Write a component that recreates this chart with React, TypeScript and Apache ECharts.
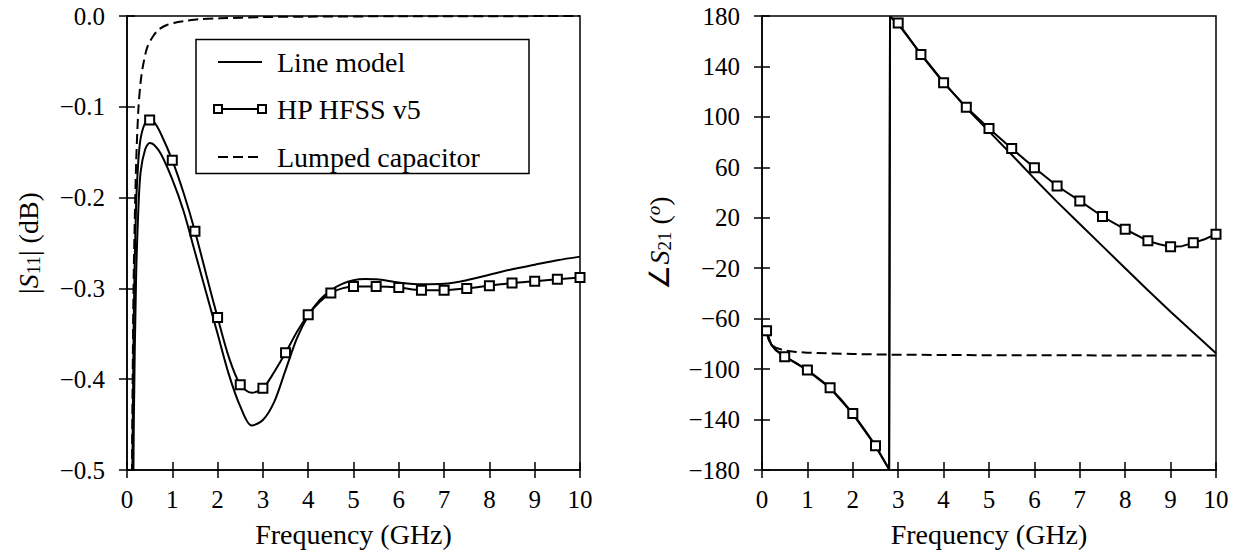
import React, { useEffect, useRef } from 'react';
import * as echarts from 'echarts';

const FONT = "'Liberation Serif', 'Liberation Sans', sans-serif";

// ---------- data (frequency GHz, value) ----------
const lineModelS11: [number, number][] = [
  [0.1, -0.8], [0.15, -0.45], [0.2, -0.29], [0.25, -0.214], [0.3, -0.172], [0.4, -0.147],
  [0.5, -0.14], [0.6, -0.142], [0.75, -0.152], [1, -0.18], [1.25, -0.215], [1.5, -0.26],
  [1.75, -0.305], [2, -0.35], [2.25, -0.395], [2.5, -0.43], [2.75, -0.451], [3, -0.445],
  [3.25, -0.425], [3.5, -0.39], [3.75, -0.355], [4, -0.33], [4.25, -0.313], [4.5, -0.302],
  [4.75, -0.295], [5, -0.291], [5.25, -0.2897], [5.5, -0.29], [6, -0.2935], [6.5, -0.2955],
  [7, -0.295], [7.5, -0.291], [8, -0.285], [8.5, -0.279], [9, -0.274], [9.5, -0.269], [10, -0.265],
];
const hfssS11: [number, number][] = [
  [0.1, -0.62], [0.15, -0.33], [0.2, -0.21], [0.25, -0.16], [0.3, -0.135], [0.4, -0.118],
  [0.5, -0.1145], [0.6, -0.117], [0.75, -0.13], [1, -0.159], [1.25, -0.195], [1.5, -0.237],
  [1.75, -0.285], [2, -0.332], [2.25, -0.376], [2.5, -0.406], [2.75, -0.415], [3, -0.41],
  [3.25, -0.392], [3.5, -0.371], [3.75, -0.348], [4, -0.329], [4.25, -0.315], [4.5, -0.305],
  [4.75, -0.3], [5, -0.298], [5.5, -0.298], [6, -0.299], [6.5, -0.302], [7, -0.302],
  [7.5, -0.3], [8, -0.297], [8.5, -0.294], [9, -0.292], [9.5, -0.29], [10, -0.288],
];
const capacitorS11: [number, number][] = [
  [0.1, -0.62], [0.11, -0.5], [0.13, -0.37], [0.15, -0.28], [0.2, -0.165], [0.25, -0.104],
  [0.3, -0.073], [0.36, -0.053], [0.45, -0.034], [0.58, -0.022], [0.7, -0.015], [0.88, -0.0099],
  [1.1, -0.0068], [1.32, -0.0052], [1.6, -0.0036], [2.05, -0.0026], [3, -0.0012], [4, -0.0007],
  [6, -0.0003], [10, -0.0001],
];
const lineModelS21: [number, number][] = [
  [0.1, -69], [0.15, -76], [0.2, -80], [0.3, -84.5], [0.4, -87.5], [0.5, -90], [0.75, -95],
  [1, -101], [1.5, -115], [2, -135.5], [2.5, -161], [2.8, -179.6], [2.82, 179.4], [3, 173.5],
  [3.5, 150], [4, 127.5], [4.5, 107], [5, 88.5], [5.5, 70], [6, 51], [6.5, 32.6], [7, 15],
  [7.5, -2.5], [8, -20], [8.5, -37.5], [9, -54.5], [9.5, -71], [10, -87.5],
];
const hfssS21: [number, number][] = [
  [0.1, -69.6], [0.2, -80.5], [0.3, -85], [0.5, -90.2], [0.75, -95.5], [1, -100.7],
  [1.25, -107.5], [1.5, -114.7], [1.75, -124.5], [2, -135.1], [2.25, -147.5], [2.5, -160.7],
  [2.8, -179.5], [2.82, 179.5], [3, 174.5], [3.5, 149.4], [4, 127], [4.5, 107.7], [5, 90.8],
  [5.5, 75], [6, 59.7], [6.5, 45.2], [7, 33.4], [7.5, 21], [8, 10.9], [8.5, 1.7], [8.75, -1],
  [9, -3], [9.25, -2.5], [9.5, 0.1], [9.75, 3], [10, 7],
];
const capacitorS21: [number, number][] = [
  [0.1, -71], [0.15, -77], [0.2, -80.5], [0.3, -83], [0.5, -85.3], [0.75, -86.4], [1, -87],
  [1.5, -87.5], [2, -88], [3, -88.6], [5, -89], [7, -89.1], [10, -89.2],
];
const hfssMarkerFreqs = [0.1, 0.5, 1, 1.5, 2, 2.5, 3, 3.5, 4, 4.5, 5, 5.5, 6, 6.5, 7, 7.5, 8, 8.5, 9, 9.5, 10];
const legendLabels = ['Line model', 'HP HFSS v5', 'Lumped capacitor'];
const xAxisTitle = 'Frequency (GHz)';

const BLACK = '#000';

function markerData(d: [number, number][]) {
  return d.map(([f, v]) =>
    hfssMarkerFreqs.includes(f) ? { value: [f, v] } : { value: [f, v], symbol: 'none' }
  );
}

function mainX(gridIndex: number) {
  return {
    type: 'value', gridIndex, min: 0, max: 10, interval: 1, position: 'bottom',
    axisLine: { show: true, onZero: false, lineStyle: { color: BLACK, width: 1.5 } },
    axisTick: { show: true, length: 8, lineStyle: { color: BLACK, width: 1.5 } },
    axisLabel: { fontSize: 25, fontFamily: FONT, color: BLACK, margin: 17 },
    splitLine: { show: false },
    name: xAxisTitle, nameLocation: 'middle', nameGap: 50,
    nameTextStyle: { fontSize: 28, fontFamily: FONT, color: BLACK },
  };
}
function innerX(gridIndex: number) {
  return {
    type: 'value', gridIndex, min: 0, max: 10, interval: 1, position: 'bottom',
    axisLine: { show: false, onZero: false },
    axisTick: { show: true, inside: true, length: 8, lineStyle: { color: BLACK, width: 1.5 } },
    axisLabel: { show: false }, splitLine: { show: false },
  };
}
const richBase = {
  t: { fontSize: 28, fontFamily: FONT, color: BLACK, lineHeight: 30 },
  s: { fontSize: 28, fontFamily: FONT, color: BLACK, lineHeight: 30, fontStyle: 'italic' },
  sub: { fontSize: 19, fontFamily: FONT, color: BLACK, lineHeight: 17, verticalAlign: 'bottom' },
  sup: { fontSize: 19, fontFamily: FONT, color: BLACK, lineHeight: 15, verticalAlign: 'top', fontStyle: 'italic' },
};
function mainY(gridIndex: number, min: number, max: number, interval: number, fmt: (v: number) => string, name: string, gap: number) {
  return {
    type: 'value', gridIndex, min, max, interval, position: 'left',
    axisLine: { show: true, onZero: false, lineStyle: { color: BLACK, width: 1.5 } },
    axisTick: { show: true, length: 8, lineStyle: { color: BLACK, width: 1.5 } },
    axisLabel: { fontSize: 25, fontFamily: FONT, color: BLACK, margin: 22, formatter: fmt },
    splitLine: { show: false },
    name, nameLocation: 'middle', nameRotate: 90, nameGap: gap,
    nameTextStyle: { rich: richBase },
  };
}
function innerY(gridIndex: number, min: number, max: number, interval: number) {
  return {
    type: 'value', gridIndex, min, max, interval, position: 'left',
    axisLine: { show: false, onZero: false },
    axisTick: { show: true, inside: true, length: 8, lineStyle: { color: BLACK, width: 1.5 } },
    axisLabel: { show: false }, splitLine: { show: false },
  };
}

const fmtS11 = (v: number) => (Math.abs(v) < 1e-9 ? '0.0' : '\u2212' + Math.abs(v).toFixed(1));
const fmtS21 = (v: number) => (v < 0 ? '\u2212' + Math.abs(Math.round(v)) : String(Math.round(v)));

function lineSeries(data: any, xi: number, yi: number, extra: any) {
  return {
    type: 'line', xAxisIndex: xi, yAxisIndex: yi, data, silent: true, clip: true,
    showSymbol: false, lineStyle: { color: BLACK, width: 2 }, ...extra,
  };
}

export default function App() {
  const ref = useRef<HTMLDivElement>(null);
  useEffect(() => {
    if (!ref.current) return;
    const chart = echarts.init(ref.current, null, { renderer: 'svg' });
    const hfssStyle = {
      showSymbol: true, symbol: 'rect', symbolSize: 9,
      itemStyle: { color: '#fff', borderColor: BLACK, borderWidth: 2 },
      z: 4,
    };
    const ly = [62, 109, 157];
    chart.setOption({
      animation: false,
      backgroundColor: '#fff',
      textStyle: { fontFamily: FONT },
      grid: [
        { left: 127, top: 16, width: 453, height: 454, show: true, borderColor: BLACK, borderWidth: 1.5, backgroundColor: 'transparent' },
        { left: 762, top: 16, width: 454, height: 454, show: true, borderColor: BLACK, borderWidth: 1.5, backgroundColor: 'transparent' },
      ],
      xAxis: [mainX(0), innerX(0), mainX(1), innerX(1)],
      yAxis: [
        mainY(0, -0.5, 0, 0.1, fmtS11, '{t||}{s|S}{sub|11}{t|| (dB)}', 84),
        innerY(0, -0.5, 0, 0.1),
        mainY(1, -180, 180, 40, fmtS21, '{t|\u2220}{s|S}{sub|21}{t| (}{sup|o}{t|)}', 88),
        innerY(1, -180, 180, 40),
      ],
      series: [
        lineSeries(capacitorS11, 0, 0, { smooth: 0.3, lineStyle: { color: BLACK, width: 2, type: [10, 5] } }),
        lineSeries(lineModelS11, 0, 0, { smooth: 0.3 }),
        lineSeries(markerData(hfssS11), 0, 0, { smooth: 0.3, ...hfssStyle }),
        lineSeries(capacitorS21, 2, 2, { lineStyle: { color: BLACK, width: 2, type: [10, 5] } }),
        lineSeries(lineModelS21, 2, 2, {}),
        lineSeries(markerData(hfssS21), 2, 2, hfssStyle),
      ],
      graphic: [
        { type: 'rect', z: 100, shape: { x: 196, y: 39.5, width: 333, height: 134 }, style: { fill: '#fff', stroke: BLACK, lineWidth: 1.5 } },
        { type: 'line', z: 101, shape: { x1: 218, y1: ly[0], x2: 262, y2: ly[0] }, style: { stroke: BLACK, lineWidth: 2 } },
        { type: 'line', z: 101, shape: { x1: 218, y1: ly[1], x2: 262, y2: ly[1] }, style: { stroke: BLACK, lineWidth: 2 } },
        { type: 'rect', z: 102, shape: { x: 214, y: ly[1] - 4, width: 8, height: 8 }, style: { fill: '#fff', stroke: BLACK, lineWidth: 2 } },
        { type: 'rect', z: 102, shape: { x: 258, y: ly[1] - 4, width: 8, height: 8 }, style: { fill: '#fff', stroke: BLACK, lineWidth: 2 } },
        { type: 'line', z: 101, shape: { x1: 218, y1: ly[2], x2: 262, y2: ly[2] }, style: { stroke: BLACK, lineWidth: 2, lineDash: [10, 5] } },
        ...legendLabels.map((txt, i) => ({
          type: 'text', z: 101, x: 277, y: ly[i],
          style: { text: txt, fontSize: 28, fontFamily: FONT, fill: BLACK, verticalAlign: 'middle', align: 'left' },
        })),
      ],
    });
    return () => chart.dispose();
  }, []);
  return <div ref={ref} style={{ position: 'absolute', left: 0, top: 0, width: 1239, height: 553 }} />;
}
